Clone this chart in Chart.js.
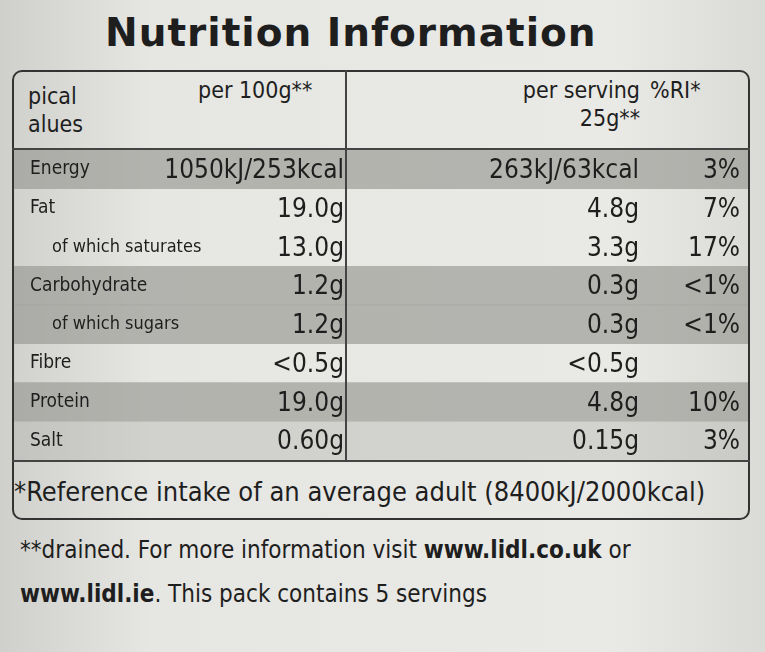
<!DOCTYPE html>
<html><head><meta charset="utf-8">
<script src="https://cdn.jsdelivr.net/npm/chart.js@4"></script>
<style>
html,body{margin:0;padding:0;}
body{width:765px;height:652px;background:#dcdcd8;position:relative;overflow:hidden;font-family:"DejaVu Sans Condensed","DejaVu Sans",sans-serif;color:#1e1e1e;}
#panel{position:absolute;left:0;top:0;width:765px;height:652px;background:linear-gradient(90deg,#cfd0cc 0%,#e6e6e2 20%,#e9e9e5 80%,#dadad6 100%);}
#title{position:absolute;left:105px;top:10px;font-size:39px;font-weight:bold;font-family:"DejaVu Sans",sans-serif;letter-spacing:1px;}
#table{position:absolute;left:12px;top:70px;width:738px;height:450px;border:2px solid #333;border-radius:10px;box-sizing:border-box;}
.h{position:absolute;font-size:23px;line-height:28px;}
#div1{position:absolute;left:345px;top:70px;width:2px;height:390px;background:#444;}
#hline{position:absolute;left:12px;top:148px;width:738px;height:2px;background:#444;}
#fline{position:absolute;left:12px;top:460px;width:738px;height:2px;background:#444;}
#ref{position:absolute;left:14px;top:476px;font-size:27px;}
#note{position:absolute;left:20px;top:528px;font-size:24px;line-height:44px;}
#wrap{position:absolute;left:14px;top:150px;width:734px;height:310px;}
</style></head><body>
<div id="panel"></div>
<div id="title">Nutrition Information</div>
<div id="table"></div>
<div class="h" style="left:28px;top:82px">pical<br>alues</div>
<div class="h" style="left:198px;top:76px">per 100g**</div>
<div class="h" style="left:470px;top:76px;text-align:right;width:170px">per serving<br>25g**</div>
<div class="h" style="left:650px;top:76px">%RI*</div>
<div id="wrap"><canvas id="c"></canvas></div>
<div id="div1"></div><div id="hline"></div><div id="fline"></div>
<div id="ref">*Reference intake of an average adult (8400kJ/2000kcal)</div>
<div id="note">**drained. For more information visit <b>www.lidl.co.uk</b> or<br><b>www.lidl.ie</b>. This pack contains 5 servings</div>
<script>
const nutrients=["Energy","Fat","of which saturates","Carbohydrate","of which sugars","Fibre","Protein","Salt"];
const per100g=["1050kJ/253kcal","19.0g","13.0g","1.2g","1.2g","<0.5g","19.0g","0.60g"];
const perServing=["263kJ/63kcal","4.8g","3.3g","0.3g","0.3g","<0.5g","4.8g","0.15g"];
const ri=["3%","7%","17%","<1%","<1%","","10%","3%"];
const shade=[1,0,0,1,1,0,1,0.6];
const textPlugin={id:'rows',afterDatasetsDraw(ch){
 const ctx=ch.ctx,y=ch.scales.y,x=ch.scales.x;
 ctx.save();ctx.fillStyle='#1e1e1e';ctx.textBaseline='middle';
 nutrients.forEach((n,i)=>{
  const py=y.getPixelForValue(i);
  ctx.font=(i===2||i===4?'18px':'19px')+' "DejaVu Sans Condensed"';
  ctx.textAlign='left';
  ctx.fillText(n,(i===2||i===4)?x.left+38:x.left+16,py);
  ctx.font='26px "DejaVu Sans Condensed"';
  ctx.textAlign='right';
  ctx.fillText(per100g[i],x.left+330,py+2);
  ctx.fillText(perServing[i],x.left+625,py+2);
  ctx.fillText(ri[i],x.left+726,py+2);
 });
 ctx.restore();}};
new Chart(document.getElementById('c'),{type:'bar',
 data:{labels:nutrients,datasets:[{data:shade.map(v=>v?1:0),
  backgroundColor:shade.map(v=>v===1?'rgba(150,150,146,0.65)':'rgba(170,170,166,0.35)'),
  barPercentage:1,categoryPercentage:1,borderWidth:0}]},
 options:{indexAxis:'y',responsive:true,maintainAspectRatio:false,animation:false,
  layout:{padding:0},
  plugins:{legend:{display:false},tooltip:{enabled:false}},
  scales:{x:{display:false,min:0,max:1},y:{display:false}}},
 plugins:[textPlugin]});
</script></body></html>
